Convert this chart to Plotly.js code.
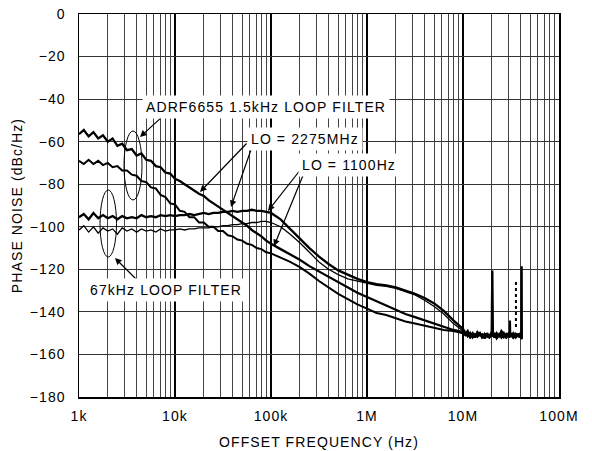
<!DOCTYPE html>
<html><head><meta charset="utf-8">
<script src="https://cdn.plot.ly/plotly-3.0.1.min.js"></script>
<style>
html,body{margin:0;padding:0;background:#fff;}
#chart{width:592px;height:451px;}
svg text{letter-spacing:1.1px;}
</style></head><body><div id="chart"></div>
<script>
// ---- data ----
const freqLow = [1000, 1122, 1259, 1413, 1585, 1778, 1995, 2239, 2512, 2818, 3162, 3548, 3981, 4467, 5012, 5623, 6310, 7079, 7943, 8913, 10000, 11220, 12589, 14125, 15849, 17783, 19953, 22387, 25119, 28184, 31623, 35481, 39811, 44668, 50119, 56234, 63096, 70795, 79433, 89125, 100000];
const freqMid = [125893, 158489, 199526, 251189, 316228, 398107, 501187, 630957, 794328, 1000000, 1258925, 1584893, 1995262, 2511886, 3162278, 3981072, 5011872, 6309573, 7943282, 10000000];
const freqFloor = [10600000, 11200000, 11900000, 12600000, 13300000, 14100000, 15000000, 15800000, 16800000, 17800000, 18800000, 19900000, 20200000, 20500000, 21100000, 22400000, 23700000, 25100000, 26600000, 28200000, 29900000, 30700000, 30900000, 31100000, 33500000, 35500000, 37600000, 39500000, 40500000, 40800000, 41000000];

// ADRF6655 1.5kHz loop filter, upper trace
const aLow = [-56.5, -54.5, -57.5, -55.5, -58.5, -57, -60, -58.5, -62, -61, -64, -63.5, -66.5, -65.5, -68.5, -69, -71.5, -72, -74.5, -75, -77.5, -78.5, -80, -81.5, -83, -84.5, -85.5, -87.5, -89, -90.5, -92, -93.5, -95, -96.5, -98, -99.5, -101.5, -103, -104.5, -106.5, -108];
const aMid = [-110.5, -113, -115.5, -118.5, -121, -123.5, -126, -128.5, -131, -133, -135, -137, -139, -141, -142.5, -144, -145.5, -147, -148.5, -149.5];
const aFloor = [-150.5, -149, -151.5, -150, -152, -149.5, -151, -150.5, -152.5, -150, -151.5, -149.5, -151, -150.5, -152, -150, -151.5, -149, -150.5, -152, -150.5, -151, -149.5, -151.5, -150, -152, -150.5, -151, -152.5, -118.5, -151.5];

// 1.5kHz loop filter, lower trace
const bLow = [-69, -70.5, -68.5, -70.5, -69, -71, -70, -72, -71.5, -73.5, -73.5, -75.5, -76, -78.5, -79, -81.5, -82, -85, -86, -89, -89.5, -92.5, -93, -95.5, -95.5, -98, -98, -100, -100, -102, -102, -104, -104.5, -106, -106.5, -108, -108.5, -110, -110.5, -112, -112.5];
const bMid = [-114.5, -116.5, -119, -122, -125.5, -128.5, -131.5, -134, -136.5, -138.5, -140.5, -141.5, -143, -144.5, -145.5, -146.5, -147.5, -148.5, -149, -150];
const bFloor = [-151, -150, -152, -150.5, -151.5, -151, -150, -152, -151, -150.5, -152, -151, -150.5, -151.5, -150, -152.5, -151, -150.5, -152, -151, -150, -152, -144, -150.5, -152, -151.5, -150.5, -152, -151, -153, -151.5];

// 67kHz loop filter, upper trace
const cLow = [-95.5, -94, -96.5, -93.5, -96, -94.5, -96, -95, -96.5, -95, -96, -95.5, -96, -94.5, -95.5, -95, -95.5, -94.5, -95, -94.5, -95, -94.5, -94.5, -94, -94.5, -94, -93.5, -94, -93.5, -93.5, -93, -93, -92.5, -93, -92.5, -92.5, -92, -92.5, -92.5, -93, -93.5];
const cMid = [-96.5, -101, -105.5, -110, -114, -117.5, -120.5, -122.5, -124.5, -126, -127, -127.5, -128.5, -130, -131.5, -133.5, -136, -139.5, -144, -148];
const cFloor = [-150, -151.5, -150, -152, -150.5, -151.5, -150, -152, -150.5, -151, -152, -150.5, -120.5, -151, -150, -152, -150.5, -151.5, -150, -152, -151, -150.5, -151.5, -150, -152, -150.5, -151.5, -150, -152, -151, -152.5];

// 67kHz loop filter, lower trace
const dLow = [-101.5, -99.5, -102.5, -100, -103, -100.5, -102, -101, -103.5, -100.5, -102, -101, -102.5, -101, -102, -101.5, -102.5, -101, -102, -101.5, -101.5, -101, -101.5, -101, -101, -100.5, -100.5, -100.5, -100, -100, -99.5, -99.5, -99, -99, -98.5, -98.5, -98, -98, -97.5, -97.5, -98];
const dMid = [-100, -103.5, -107.5, -112, -116.5, -120, -122.5, -124.5, -125.5, -126.5, -127.5, -128, -129, -130.5, -132, -134.5, -137.5, -141, -145.5, -149];
const dFloor = [-151, -150, -152.5, -150.5, -151, -152, -150.5, -151.5, -150, -152, -151, -150.5, -151.5, -150, -152, -151, -150.5, -152.5, -151, -150, -151.5, -152, -150.5, -151, -152.5, -150, -151.5, -152, -150.5, -151.5, -152];

// dotted spur
const spurFreq = [35600000, 35600000];
const spurLevel = [-126, -148];

const xTickVals = [1e3, 1e4, 1e5, 1e6, 1e7, 1e8];
const xTickText = ['1k', '10k', '100k', '1M', '10M', '100M'];

// ---- build ----
const freq = freqLow.concat(freqMid, freqFloor);
function tr(y, w) {
  return {x: freq, y: y, type: 'scatter', mode: 'lines', line: {color: '#000', width: w}, hoverinfo: 'skip'};
}
const traces = [
  tr(aLow.concat(aMid, aFloor), 2.3),
  tr(bLow.concat(bMid, bFloor), 2.0),
  tr(cLow.concat(cMid, cFloor), 2.3),
  tr(dLow.concat(dMid, dFloor), 1.3),
  {x: spurFreq, y: spurLevel, type: 'scatter', mode: 'lines', line: {color: '#000', width: 2, dash: 'dot'}, hoverinfo: 'skip'}
];

const FONT = 'Liberation Sans, Arial, Helvetica, sans-serif';
const L = 79, R = 559, T = 14, B = 397;
function px(xp) { return (xp - L) / (R - L); }
function py(yp) { return (B - yp) / (B - T); }

function label(text, cx, cy) {
  return {text: text, xref: 'paper', yref: 'paper', x: px(cx), y: py(cy), xanchor: 'center', yanchor: 'middle',
          showarrow: false, bgcolor: '#fff', borderpad: 3, font: {family: FONT, size: 14, color: '#000'}};
}
function arrow(hx, hy, tx, ty) {
  return {text: '', xref: 'paper', yref: 'paper', x: px(hx), y: py(hy), ax: tx - hx, ay: ty - hy,
          showarrow: true, arrowhead: 2, arrowsize: 1.1, arrowwidth: 1.2, arrowcolor: '#000', standoff: 0, startstandoff: 0};
}

const layout = {
  width: 592, height: 451,
  margin: {l: L, r: 592 - R, t: T, b: 451 - B},
  paper_bgcolor: '#fff', plot_bgcolor: '#fff',
  showlegend: false,
  font: {family: FONT, size: 14, color: '#000'},
  xaxis: {
    type: 'log', range: [3, 8], tickmode: 'array', tickvals: xTickVals, ticktext: xTickText,
    ticks: '', ticklabelstandoff: 6,
    showgrid: true, gridcolor: '#000', gridwidth: 1.3,
    minor: {dtick: 'D1', showgrid: true, gridcolor: '#444', gridwidth: 1, ticks: ''},
    showline: true, mirror: true, linecolor: '#000', linewidth: 1.5, zeroline: false,
    tickfont: {family: FONT, size: 14, color: '#000'},
    title: {text: 'OFFSET FREQUENCY (Hz)', standoff: 14, font: {family: FONT, size: 14, color: '#000'}}
  },
  yaxis: {
    range: [-180, 0], dtick: 20, tick0: 0, ticks: '', ticklabelstandoff: 9,
    showgrid: true, gridcolor: '#333', gridwidth: 1,
    showline: true, mirror: true, linecolor: '#000', linewidth: 1.5, zeroline: false,
    tickfont: {family: FONT, size: 14, color: '#000'},
    title: {text: 'PHASE NOISE (dBc/Hz)', standoff: 4, font: {family: FONT, size: 14, color: '#000'}}
  },
  shapes: [
    {type: 'circle', xref: 'paper', yref: 'paper', x0: px(124), x1: px(142), y0: py(200), y1: py(131), line: {color: '#000', width: 1}, layer: 'above'},
    {type: 'circle', xref: 'paper', yref: 'paper', x0: px(100), x1: px(116.5), y0: py(257), y1: py(190), line: {color: '#000', width: 1}, layer: 'above'}
  ],
  annotations: [
    arrow(140, 137, 163, 116),
    arrow(200, 192, 248, 142),
    arrow(231, 207, 253, 144),
    arrow(268, 211, 301, 169),
    arrow(274, 246, 304, 173),
    arrow(115, 258, 137, 280),
    label('ADRF6655 1.5kHz LOOP FILTER', 265.5, 106.5),
    label('LO = 2275MHz', 304.5, 138.5),
    label('LO = 1100Hz', 349, 165),
    label('67kHz LOOP FILTER', 165.5, 289.5)
  ]
};

Plotly.newPlot('chart', traces, layout, {displayModeBar: false, staticPlot: true});
</script></body></html>
